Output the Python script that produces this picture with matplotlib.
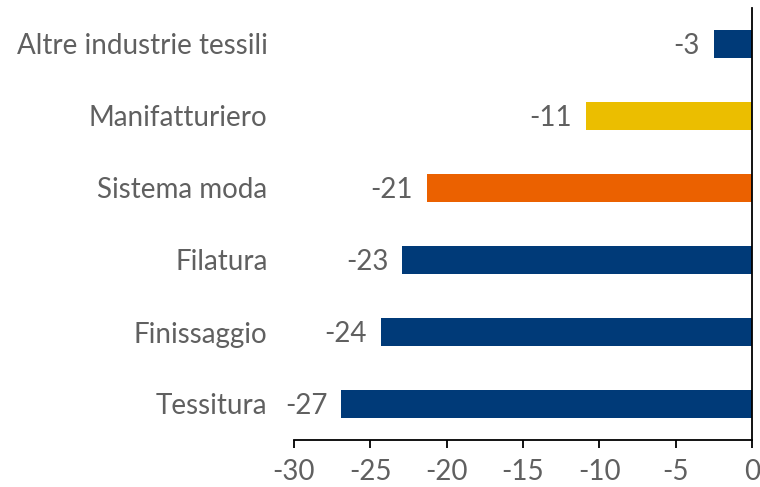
import matplotlib.pyplot as plt

# data
categories = ['Tessitura', 'Finissaggio', 'Filatura', 'Sistema moda',
              'Manifatturiero', 'Altre industrie tessili']
values = [-26.9, -24.3, -22.9, -21.3, -10.9, -2.5]
value_labels = ['-27', '-24', '-23', '-21', '-11', '-3']
bar_colors = ['#003A78', '#003A78', '#003A78', '#EB6100', '#EBBE00', '#003A78']
x_ticks = [-30, -25, -20, -15, -10, -5, 0]

TEXT = '#606060'
FS = 20
plt.rcParams['font.family'] = ['Lato', 'DejaVu Sans']

fig = plt.figure(figsize=(7.6, 4.87), dpi=100)
ax = fig.add_axes([294 / 760, 1 - 440 / 487, 458 / 760, 432 / 487])

ypos = range(len(categories))
ax.barh(ypos, values, height=0.4, color=bar_colors)

for y, v, lab in zip(ypos, values, value_labels):
    ax.annotate(lab, (v, y), xytext=(-10, 0), textcoords='offset points',
                ha='right', va='center_baseline', fontsize=FS, color=TEXT)

ax.set_xlim(-30, 0)
ax.set_ylim(-0.5, len(categories) - 0.5)
ax.set_xticks(x_ticks)
ax.set_xticklabels([str(t) for t in x_ticks])
ax.set_yticks(list(ypos))
ax.set_yticklabels(categories)

ax.spines['top'].set_visible(False)
ax.spines['left'].set_visible(False)
ax.spines['right'].set_color('black')
ax.spines['bottom'].set_color('black')
ax.spines['right'].set_linewidth(1.3)
ax.spines['bottom'].set_linewidth(1.3)

ax.tick_params(axis='x', direction='out', length=6, width=1.3, colors='black',
               labelcolor=TEXT, labelsize=FS, pad=8)
ax.tick_params(axis='y', length=0, labelcolor=TEXT, labelsize=FS, pad=19)

fig.savefig('out.png', dpi=100)
